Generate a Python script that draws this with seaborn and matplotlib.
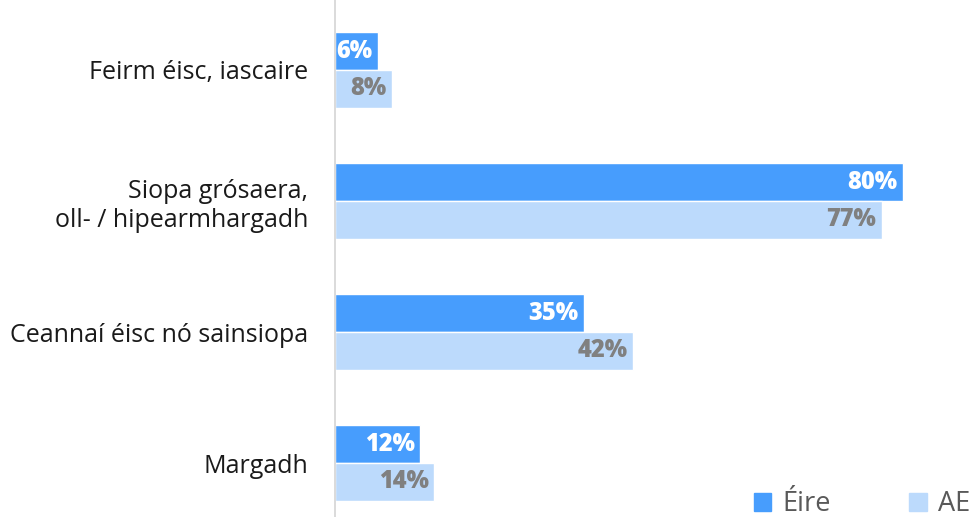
import pandas as pd
import seaborn as sns
import matplotlib.pyplot as plt
from matplotlib.patches import Patch

# categories and values
categories = ["Feirm éisc, iascaire",
              "Siopa grósaera,\noll- / hipearmhargadh",
              "Ceannaí éisc nó sainsiopa",
              "Margadh"]
eire = [6, 80, 35, 12]
ae = [8, 77, 42, 14]
series = ["Éire", "AE"]

colors = {"Éire": "#479dfd", "AE": "#bcdafc"}
label_colors = {"Éire": "white", "AE": "#808080"}

df = pd.DataFrame({
    "Category": categories * 2,
    "Value": eire + ae,
    "Series": ["Éire"] * len(categories) + ["AE"] * len(categories),
})

sns.set_style("white")
plt.rcParams['font.family'] = ['Open Sans', 'DejaVu Sans']

fig = plt.figure(figsize=(9.73, 5.17), dpi=100)
ax = fig.add_axes([335 / 973, 0, 1 - 335 / 973, 1])

sns.barplot(data=df, x="Value", y="Category", hue="Series",
            hue_order=series, palette=colors, orient="h",
            width=0.573, saturation=1, ax=ax, legend=False)

ax.set_xlim(0, (973 - 335) / 7.1)
ax.set_ylim(3.412, -0.534)

# value labels at the bar ends
for container, name in zip(ax.containers, series):
    ax.bar_label(container, labels=[f"{int(v)}%" for v in container.datavalues],
                 padding=-4, label_type="edge", color=label_colors[name],
                 fontsize=17, fontweight="heavy",
                 family=['Open Sans', 'DejaVu Sans'])
    for t in ax.texts[-len(categories):]:
        t.set_ha("right")

ax.set_xlabel("")
ax.set_ylabel("")
ax.set_xticks([])
ax.tick_params(axis="y", length=0, labelsize=18, pad=19.5, colors="#1a1a1a")
for s in ["top", "right", "bottom"]:
    ax.spines[s].set_visible(False)
ax.spines["left"].set_color("#d4d4d4")
ax.spines["left"].set_linewidth(1.2)

handles = [Patch(color=colors[s], label=s) for s in series]
fig.legend(handles=handles, loc="lower right", bbox_to_anchor=(1.022, -0.05),
           ncol=2, frameon=False, fontsize=19.5, handlelength=0.65,
           handleheight=0.65, handletextpad=0.4, columnspacing=2.9,
           labelcolor="#595959")

plt.savefig("out.png", dpi=100)
